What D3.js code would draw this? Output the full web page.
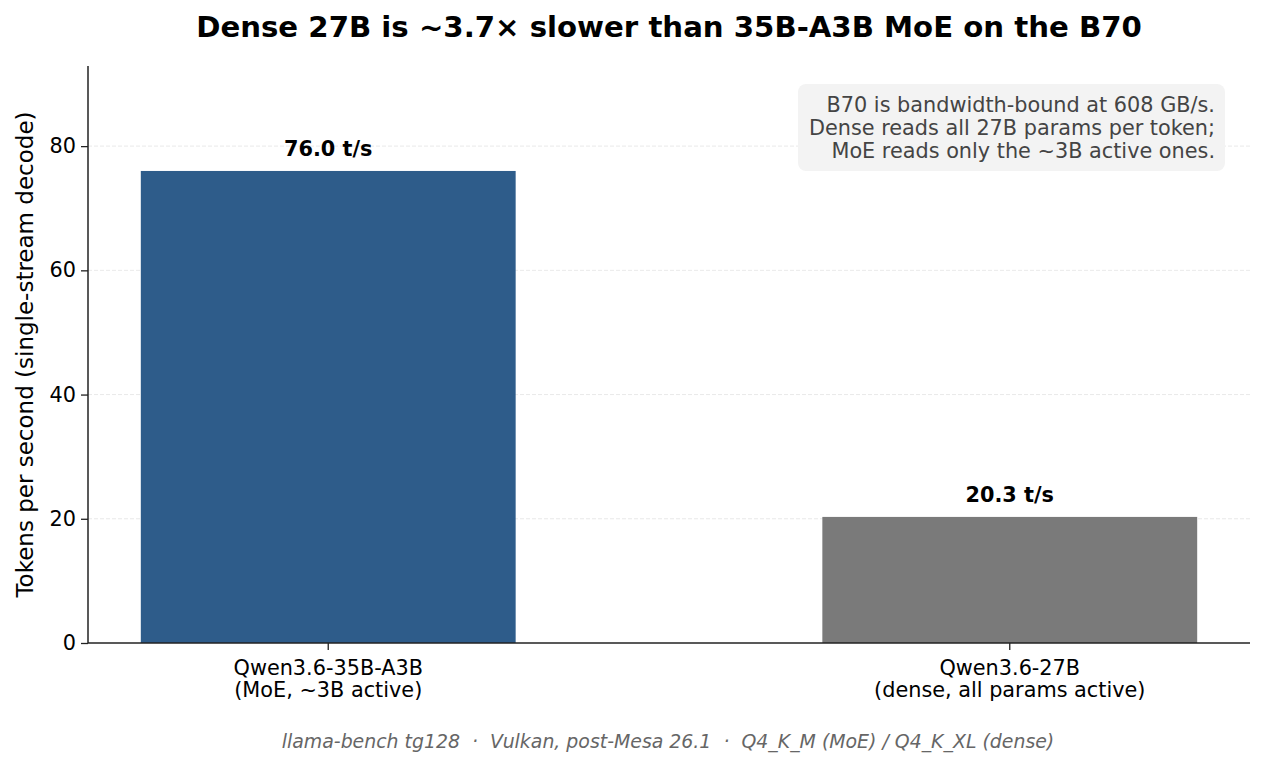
<!DOCTYPE html>
<html>
<head>
<meta charset="utf-8">
<script src="https://cdn.jsdelivr.net/npm/d3@7"></script>
<style>
  body { margin: 0; background: #fff; }
  text { font-family: "DejaVu Sans", sans-serif; }
</style>
</head>
<body>
<div id="chart"></div>
<script>
// data
const models = ['Qwen3.6-35B-A3B', 'Qwen3.6-27B'];
const modelNotes = ['(MoE, ~3B active)', '(dense, all params active)'];
const tokensPerSec = [76.0, 20.3];
const barColors = ['#2e5c8a', '#7a7a7a'];
const yTicks = [0, 20, 40, 60, 80];
const noteLines = [
  'B70 is bandwidth-bound at 608 GB/s.',
  'Dense reads all 27B params per token;',
  'MoE reads only the ~3B active ones.'
];

const width = 1265, height = 767;
const margin = { top: 66, right: 15, bottom: 124, left: 88 };
const innerWidth = width - margin.left - margin.right;
const innerHeight = height - margin.top - margin.bottom;

const svg = d3.select('#chart').append('svg')
  .attr('width', width).attr('height', height);

const mainG = svg.append('g')
  .attr('transform', `translate(${margin.left}, ${margin.top})`);

// x: category index with matplotlib-like margins
const xScale = d3.scaleLinear()
  .domain([-0.3525, 1.3525])
  .range([0, innerWidth]);
const barW = xScale(0.55) - xScale(0);

const yScale = d3.scaleLinear()
  .domain([0, 92.9])
  .range([innerHeight, 0]);

// grid
mainG.selectAll('.grid')
  .data(yTicks.filter(d => d > 0))
  .join('line')
  .attr('x1', 0).attr('x2', innerWidth)
  .attr('y1', d => yScale(d)).attr('y2', d => yScale(d))
  .attr('stroke', '#e3e3e3')
  .attr('stroke-width', 0.8)
  .attr('stroke-dasharray', '4,2');

// bars
mainG.selectAll('.bar')
  .data(tokensPerSec)
  .join('rect')
  .attr('x', (d, i) => xScale(i) - barW / 2)
  .attr('width', barW)
  .attr('y', d => yScale(d))
  .attr('height', d => innerHeight - yScale(d))
  .attr('fill', (d, i) => barColors[i]);

// value labels
mainG.selectAll('.val')
  .data(tokensPerSec)
  .join('text')
  .attr('x', (d, i) => xScale(i))
  .attr('y', d => yScale(d) - 15)
  .attr('text-anchor', 'middle')
  .style('font-size', '20.8px')
  .style('font-weight', 'bold')
  .attr('fill', '#000')
  .text(d => d.toFixed(1) + ' t/s');

// axes
const yAxis = d3.axisLeft(yScale)
  .tickValues(yTicks)
  .tickSize(7)
  .tickPadding(5);

const yG = mainG.append('g').call(yAxis);
yG.select('.domain').attr('stroke', '#222').attr('stroke-width', 1.5)
  .attr('d', `M0,${innerHeight}V0`);
yG.selectAll('.tick line').attr('stroke', '#222').attr('stroke-width', 1.3);
yG.selectAll('.tick text').style('font-size', '20.8px').attr('fill', '#000')
  .style('font-family', '"DejaVu Sans", sans-serif');

const xG = mainG.append('g')
  .attr('transform', `translate(0, ${innerHeight})`);
xG.append('line')
  .attr('x1', 0).attr('x2', innerWidth)
  .attr('stroke', '#222').attr('stroke-width', 1.5);
xG.selectAll('.xt')
  .data(models)
  .join('line')
  .attr('x1', (d, i) => xScale(i)).attr('x2', (d, i) => xScale(i))
  .attr('y1', 0).attr('y2', 7)
  .attr('stroke', '#222').attr('stroke-width', 1.3);
const xLabels = xG.selectAll('.xl')
  .data(models)
  .join('text')
  .attr('text-anchor', 'middle')
  .attr('transform', (d, i) => `translate(${xScale(i)}, 32)`)
  .style('font-size', '20.8px')
  .attr('fill', '#000');
xLabels.append('tspan').attr('x', 0).attr('y', 0).text(d => d);
xLabels.append('tspan').attr('x', 0).attr('y', 22).text((d, i) => modelNotes[i]);

// y label
svg.append('text')
  .attr('transform', `translate(33, ${margin.top + innerHeight / 2}) rotate(-90)`)
  .attr('text-anchor', 'middle')
  .style('font-size', '23px')
  .attr('fill', '#000')
  .text('Tokens per second (single-stream decode)');

// title
svg.append('text')
  .attr('x', margin.left + innerWidth / 2)
  .attr('y', 37)
  .attr('text-anchor', 'middle')
  .style('font-size', '29.2px')
  .style('font-weight', 'bold')
  .attr('fill', '#000')
  .text('Dense 27B is ~3.7× slower than 35B-A3B MoE on the B70');

// note box
svg.append('rect')
  .attr('x', 798).attr('y', 84)
  .attr('width', 427).attr('height', 87)
  .attr('rx', 8)
  .attr('fill', '#f3f3f3');
svg.append('text')
  .attr('text-anchor', 'end')
  .style('font-size', '20.8px')
  .attr('fill', '#444')
  .selectAll('tspan')
  .data(noteLines)
  .join('tspan')
  .attr('x', 1215)
  .attr('y', (d, i) => 112 + i * 22.8)
  .text(d => d);

// footer
svg.append('text')
  .attr('x', 668)
  .attr('y', 748)
  .attr('text-anchor', 'middle')
  .style('font-size', '18.9px')
  .style('font-style', 'italic')
  .style('white-space', 'pre')
  .attr('fill', '#666')
  .text('llama-bench tg128  ·  Vulkan, post-Mesa 26.1  ·  Q4_K_M (MoE) / Q4_K_XL (dense)');
</script>
</body>
</html>
